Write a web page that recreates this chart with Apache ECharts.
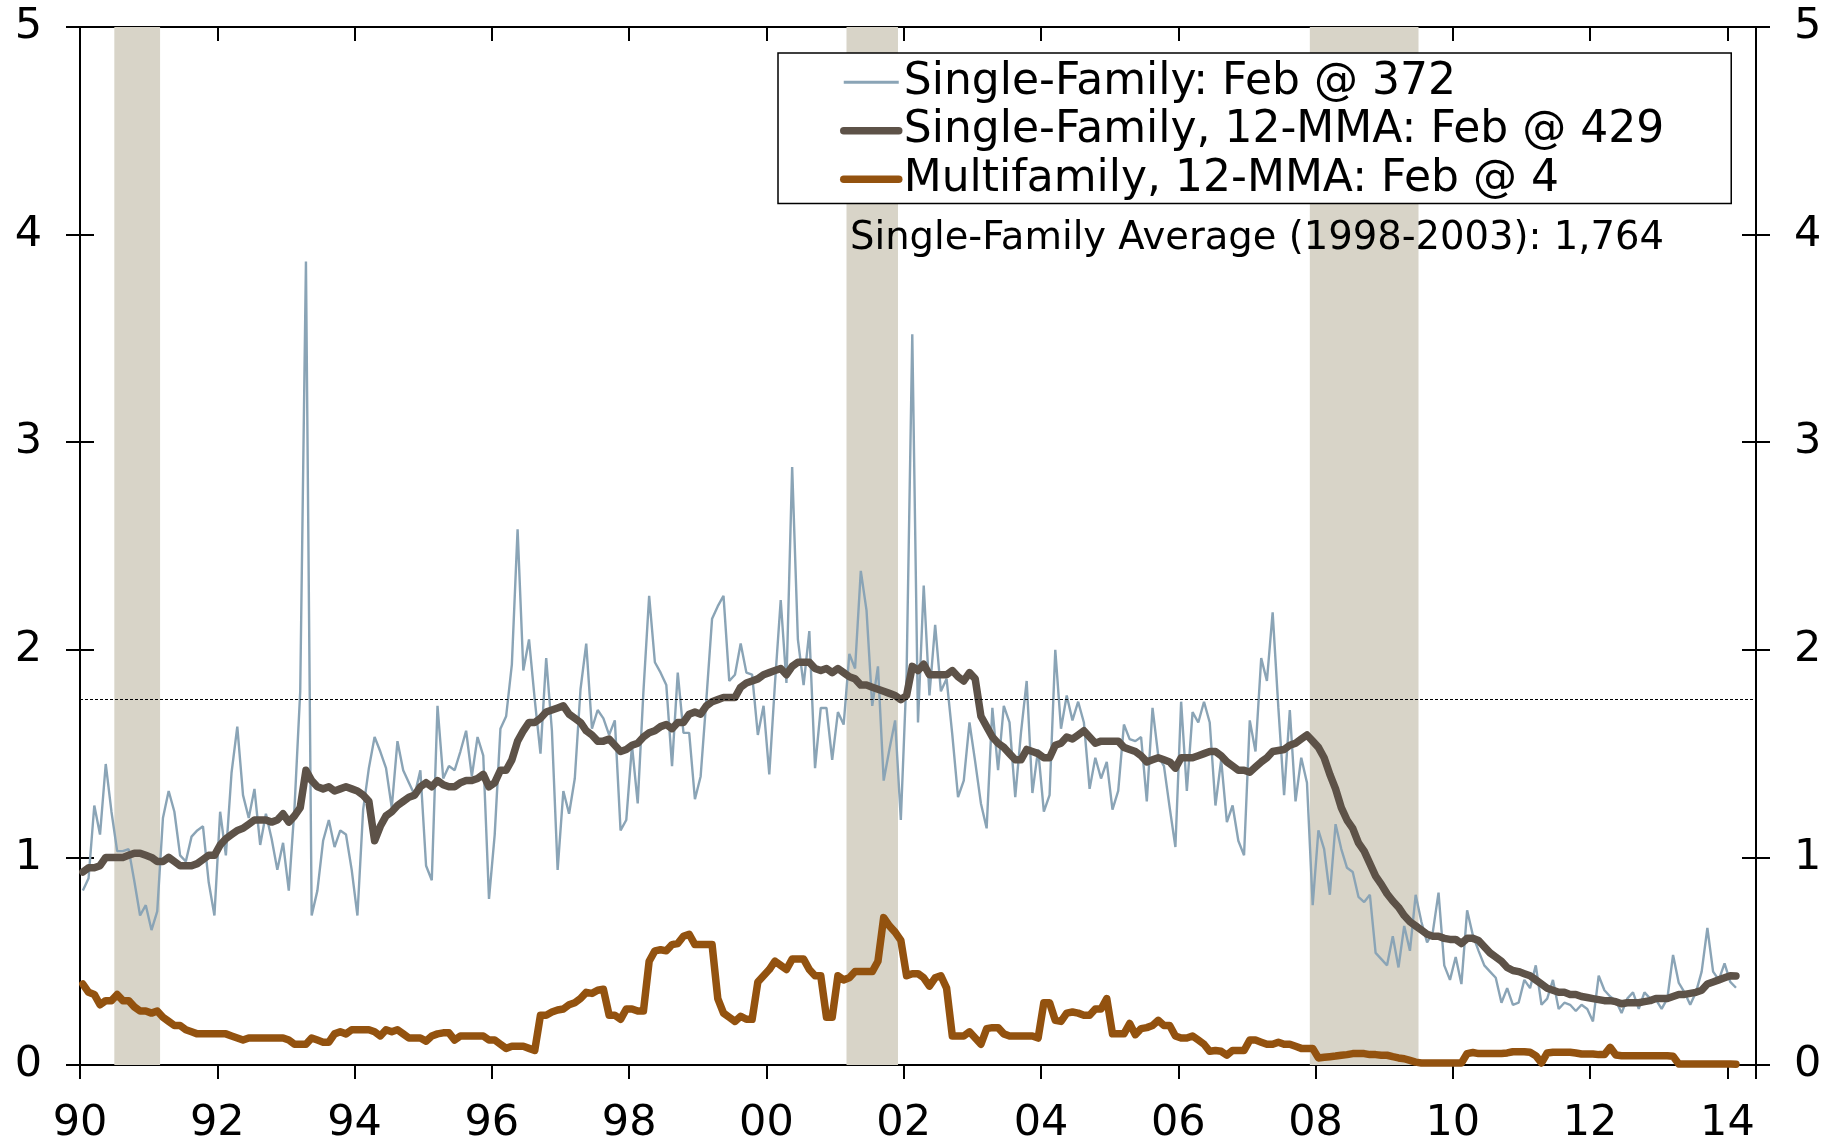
<!DOCTYPE html>
<html><head><meta charset="utf-8">
<script src="https://cdn.jsdelivr.net/npm/echarts@6/dist/echarts.min.js"></script>
<style>html,body{margin:0;padding:0;background:#fff}#c{width:1843px;height:1145px}</style>
</head><body><div id="c"></div>
<script>
// Monthly data, Jan 1990 .. Feb 2014 (millions of units)
const startYear = 1990;
const axisMonths = 293; // axis spans Jan 1990 .. May 2014
const yearLabels = ['90','92','94','96','98','00','02','04','06','08','10','12','14'];
const yTicks = [0, 1, 2, 3, 4, 5];

const singleFamily = [
 0.84,0.90,1.25,1.11,1.45,1.22,1.03,1.03,1.04,0.885,0.72,0.77,
 0.65,0.74,1.19,1.32,1.22,1.01,0.98,1.10,1.13,1.15,0.88,0.72,
 1.22,1.01,1.41,1.63,1.30,1.19,1.33,1.06,1.21,1.09,0.94,1.07,
 0.84,1.24,1.80,3.87,0.72,0.84,1.08,1.18,1.05,1.13,1.11,0.94,
 0.72,1.23,1.43,1.58,1.51,1.43,1.24,1.56,1.42,1.36,1.30,1.42,
 0.96,0.89,1.73,1.38,1.44,1.42,1.51,1.61,1.39,1.58,1.49,0.80,
 1.11,1.62,1.68,1.93,2.58,1.90,2.05,1.76,1.50,1.96,1.61,0.94,
 1.32,1.21,1.38,1.81,2.03,1.62,1.71,1.67,1.59,1.66,1.13,1.18,
 1.54,1.26,1.80,2.26,1.94,1.89,1.83,1.44,1.89,1.60,1.60,1.28,
 1.39,1.76,2.15,2.21,2.26,1.85,1.88,2.03,1.89,1.88,1.59,1.73,
 1.40,1.84,2.24,1.84,2.88,2.05,1.83,2.09,1.43,1.72,1.72,1.47,
 1.70,1.64,1.98,1.91,2.38,2.19,1.73,1.92,1.37,1.52,1.66,1.18,
 1.88,3.52,1.65,2.31,1.78,2.12,1.80,1.86,1.59,1.29,1.37,1.65,
 1.46,1.26,1.14,1.72,1.42,1.73,1.65,1.29,1.60,1.85,1.31,1.52,
 1.22,1.30,2.00,1.62,1.78,1.66,1.75,1.65,1.33,1.48,1.38,1.46,
 1.23,1.32,1.64,1.57,1.56,1.58,1.27,1.72,1.49,1.44,1.24,1.05,
 1.75,1.32,1.70,1.65,1.75,1.65,1.25,1.47,1.17,1.25,1.08,1.01,
 1.66,1.51,1.96,1.85,2.18,1.72,1.30,1.71,1.27,1.48,1.36,0.77,
 1.13,1.04,0.82,1.16,1.04,0.95,0.93,0.81,0.785,0.82,0.54,0.51,
 0.48,0.62,0.47,0.67,0.55,0.82,0.69,0.59,0.64,0.83,0.48,0.41,
 0.52,0.39,0.745,0.625,0.55,0.48,0.45,0.42,0.30,0.37,0.29,0.30,
 0.41,0.37,0.48,0.29,0.32,0.41,0.27,0.30,0.29,0.26,0.29,0.27,
 0.21,0.43,0.36,0.33,0.31,0.25,0.32,0.35,0.27,0.35,0.32,0.315,
 0.27,0.32,0.53,0.395,0.35,0.29,0.35,0.45,0.66,0.45,0.41,0.49,
 0.40,0.372
];

const singleFamily12 = [
 0.93,0.95,0.95,0.96,1.00,1.00,1.00,1.00,1.01,1.02,1.02,1.01,
 1.00,0.98,0.98,1.00,0.98,0.96,0.96,0.96,0.97,0.99,1.01,1.01,
 1.06,1.09,1.11,1.13,1.14,1.16,1.18,1.18,1.18,1.17,1.18,1.21,
 1.17,1.20,1.24,1.42,1.37,1.34,1.33,1.34,1.32,1.33,1.34,1.33,
 1.32,1.30,1.27,1.08,1.15,1.20,1.22,1.25,1.27,1.29,1.30,1.34,
 1.36,1.34,1.37,1.35,1.34,1.34,1.36,1.37,1.37,1.38,1.40,1.34,
 1.36,1.42,1.42,1.47,1.56,1.61,1.65,1.65,1.67,1.70,1.71,1.72,
 1.73,1.69,1.67,1.65,1.61,1.59,1.56,1.56,1.57,1.54,1.51,1.52,
 1.54,1.55,1.58,1.60,1.61,1.63,1.64,1.62,1.65,1.65,1.69,1.70,
 1.69,1.73,1.75,1.76,1.77,1.77,1.77,1.82,1.84,1.85,1.86,1.88,
 1.89,1.90,1.91,1.88,1.92,1.94,1.94,1.94,1.91,1.90,1.91,1.89,
 1.91,1.89,1.87,1.86,1.83,1.83,1.82,1.81,1.80,1.79,1.78,1.76,
 1.78,1.92,1.90,1.93,1.88,1.88,1.88,1.88,1.90,1.87,1.85,1.89,
 1.86,1.68,1.63,1.58,1.55,1.53,1.50,1.47,1.47,1.52,1.51,1.50,
 1.48,1.48,1.54,1.55,1.58,1.57,1.59,1.61,1.58,1.55,1.56,1.56,
 1.56,1.56,1.53,1.52,1.51,1.49,1.46,1.47,1.48,1.47,1.46,1.43,
 1.48,1.48,1.48,1.49,1.50,1.51,1.51,1.49,1.46,1.44,1.42,1.42,
 1.41,1.435,1.46,1.48,1.51,1.515,1.52,1.54,1.55,1.57,1.59,1.56,
 1.53,1.48,1.40,1.33,1.24,1.18,1.14,1.07,1.03,0.97,0.91,0.87,
 0.825,0.79,0.76,0.72,0.69,0.67,0.65,0.63,0.62,0.62,0.61,0.605,
 0.605,0.585,0.61,0.61,0.60,0.57,0.54,0.52,0.50,0.47,0.455,0.45,
 0.44,0.43,0.41,0.39,0.37,0.36,0.35,0.35,0.34,0.34,0.33,0.325,
 0.32,0.315,0.31,0.31,0.305,0.295,0.30,0.30,0.30,0.305,0.31,0.32,
 0.32,0.32,0.33,0.34,0.34,0.345,0.35,0.36,0.39,0.40,0.41,0.42,
 0.43,0.429
];

const multifamily12 = [
 0.39,0.35,0.34,0.29,0.31,0.31,0.34,0.31,0.31,0.28,0.26,0.26,
 0.25,0.26,0.23,0.21,0.19,0.19,0.17,0.16,0.15,0.15,0.15,0.15,
 0.15,0.15,0.14,0.13,0.12,0.13,0.13,0.13,0.13,0.13,0.13,0.13,
 0.12,0.10,0.10,0.10,0.13,0.12,0.11,0.11,0.15,0.16,0.15,0.17,
 0.17,0.17,0.17,0.16,0.14,0.17,0.16,0.17,0.15,0.13,0.13,0.13,
 0.115,0.14,0.15,0.155,0.155,0.12,0.14,0.14,0.14,0.14,0.14,0.12,
 0.12,0.10,0.08,0.09,0.09,0.09,0.08,0.07,0.24,0.24,0.255,0.265,
 0.27,0.29,0.30,0.32,0.35,0.345,0.36,0.365,0.24,0.24,0.22,0.27,
 0.27,0.26,0.26,0.50,0.55,0.555,0.55,0.58,0.585,0.62,0.63,0.58,
 0.58,0.58,0.58,0.32,0.25,0.23,0.21,0.235,0.22,0.22,0.40,0.43,
 0.46,0.50,0.48,0.46,0.51,0.51,0.51,0.46,0.43,0.43,0.23,0.23,
 0.43,0.41,0.42,0.45,0.45,0.45,0.45,0.50,0.71,0.67,0.64,0.60,
 0.43,0.44,0.44,0.42,0.38,0.42,0.43,0.37,0.14,0.14,0.14,0.16,
 0.13,0.10,0.175,0.18,0.18,0.15,0.14,0.14,0.14,0.14,0.14,0.13,
 0.30,0.30,0.215,0.21,0.25,0.255,0.25,0.24,0.24,0.27,0.27,0.32,
 0.15,0.15,0.15,0.20,0.146,0.175,0.18,0.19,0.215,0.19,0.19,0.14,
 0.13,0.13,0.14,0.12,0.10,0.066,0.07,0.066,0.047,0.07,0.07,0.07,
 0.12,0.12,0.11,0.10,0.10,0.11,0.10,0.10,0.09,0.08,0.08,0.08,
 0.034,0.037,0.04,0.043,0.047,0.05,0.055,0.055,0.055,0.05,0.05,0.047,
 0.047,0.04,0.034,0.03,0.022,0.014,0.01,0.01,0.01,0.01,0.01,0.01,
 0.01,0.01,0.055,0.06,0.055,0.055,0.055,0.055,0.055,0.058,0.064,0.064,
 0.064,0.061,0.045,0.01,0.058,0.061,0.061,0.061,0.061,0.058,0.053,0.053,
 0.053,0.05,0.05,0.085,0.048,0.045,0.045,0.045,0.045,0.045,0.045,0.045,
 0.045,0.045,0.042,0.005,0.005,0.005,0.005,0.005,0.005,0.005,0.005,0.005,
 0.005,0.004
];

// Shaded recession periods (first and last shaded month)
const recessions = [['1990-07','1991-02'], ['2001-03','2001-11'], ['2007-12','2009-06']];
const singleFamilyAverage = 1.764;
const seriesNames = ['Single-Family: Feb @ 372', 'Single-Family, 12-MMA: Feb @ 429', 'Multifamily, 12-MMA: Feb @ 4'];
const averageLabel = 'Single-Family Average (1998-2003): 1,764';

const FONT = 'DejaVu Sans';
function monthIndex(s) { const [y, m] = s.split('-').map(Number); return (y - startYear) * 12 + (m - 1); }
function pts(arr) { return arr.map((v, i) => [i + 0.5, v]); }

const axisLineStyle = { color: '#000', width: 2 };
function xAx(inside, labels) {
  return {
    type: 'value', min: 0, max: axisMonths, interval: 24,
    axisLine: { show: !inside, onZero: false, lineStyle: axisLineStyle },
    axisTick: { show: true, inside: inside, length: 14, lineStyle: axisLineStyle },
    axisLabel: { show: labels, margin: 37, fontSize: 43, color: '#000', fontFamily: FONT,
      formatter: v => (v % 24 === 0 ? yearLabels[v / 24] : '') },
    splitLine: { show: false }
  };
}
function yAx(pos, inside, labels) {
  return {
    type: 'value', position: pos, min: yTicks[0], max: yTicks[yTicks.length - 1], interval: 1,
    axisLine: { show: !inside, onZero: false, lineStyle: axisLineStyle },
    axisTick: { show: true, inside: inside, length: 14, lineStyle: axisLineStyle },
    axisLabel: { show: labels, margin: 38, fontSize: 43, color: '#000', fontFamily: FONT },
    splitLine: { show: false }
  };
}

const hiddenMarker = { color: 'rgba(0,0,0,0)', opacity: 0, borderWidth: 0 };
const chart = echarts.init(document.getElementById('c'), null, { renderer: 'canvas' });
chart.setOption({
  animation: false,
  backgroundColor: '#fff',
  textStyle: { fontFamily: FONT },
  grid: { left: 80, right: 87, top: 27, bottom: 78, show: true, borderColor: '#000', borderWidth: 2, backgroundColor: 'transparent' },
  xAxis: [xAx(false, true), xAx(true, false)],
  yAxis: [yAx('left', false, true), yAx('left', true, false), yAx('right', false, true), yAx('right', true, false)],
  legend: {
    orient: 'vertical', left: 778, top: 53,
    padding: [5, 67, 0, 62], itemGap: 0, itemWidth: 55, itemHeight: 48.5,
    borderColor: '#000', borderWidth: 1.5, backgroundColor: '#fff',
    selectedMode: false,
    textStyle: { fontSize: 44, color: '#000', fontFamily: FONT, lineHeight: 48.5 },
    data: [
      { name: seriesNames[0], lineStyle: { width: 3 }, itemStyle: hiddenMarker },
      { name: seriesNames[1], lineStyle: { width: 7.5, cap: 'round' }, itemStyle: hiddenMarker },
      { name: seriesNames[2], lineStyle: { width: 7.5, cap: 'round' }, itemStyle: hiddenMarker }
    ]
  },
  graphic: [{
    type: 'text', left: 850, top: 219, z: 100,
    style: { text: averageLabel, font: '38.5px "' + FONT + '"', fill: '#000' }
  }],
  series: [
    {
      name: 'recessions', type: 'line', data: [], z: 1, silent: true,
      markArea: {
        silent: true,
        itemStyle: { color: '#d8d4c8' },
        data: recessions.map(([a, b]) => [{ xAxis: monthIndex(a) }, { xAxis: monthIndex(b) + 1 }])
      }
    },
    {
      name: 'average', type: 'line', data: [], z: 2, silent: true,
      markLine: {
        silent: true, symbol: ['none', 'none'], label: { show: false },
        lineStyle: { type: [3, 2], color: '#000', width: 1.2 },
        data: [{ yAxis: singleFamilyAverage }]
      }
    },
    {
      name: seriesNames[0], type: 'line', data: pts(singleFamily), symbol: 'none', z: 3,
      lineStyle: { color: '#8aa4b6', width: 2.4 }, itemStyle: { color: '#8aa4b6' }
    },
    {
      name: seriesNames[1], type: 'line', data: pts(singleFamily12), symbol: 'none', z: 4,
      lineStyle: { color: '#5d5248', width: 7.5, cap: 'round', join: 'round' }, itemStyle: { color: '#5d5248' }
    },
    {
      name: seriesNames[2], type: 'line', data: pts(multifamily12), symbol: 'none', z: 5,
      lineStyle: { color: '#93520f', width: 7.5, cap: 'round', join: 'round' }, itemStyle: { color: '#93520f' }
    }
  ]
});
</script>
</body></html>
